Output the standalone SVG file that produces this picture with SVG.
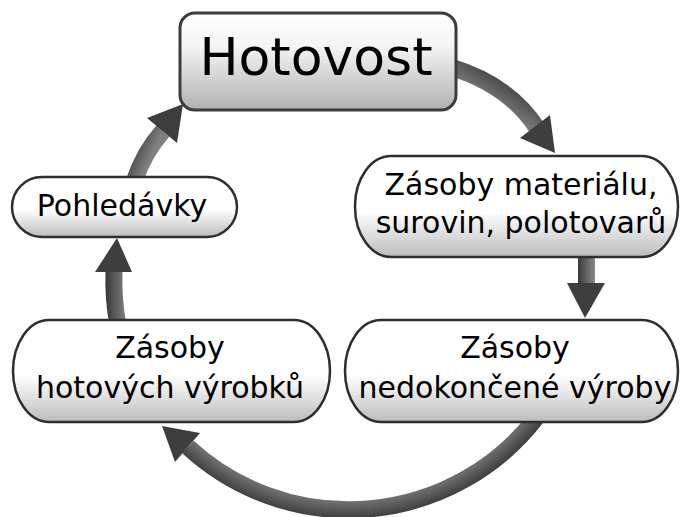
<svg xmlns="http://www.w3.org/2000/svg" width="681" height="517" viewBox="0 0 681 517">
  <defs>
    <linearGradient id="boxFill" x1="0" y1="0" x2="0" y2="1">
      <stop offset="0" stop-color="#ffffff"/>
      <stop offset="0.55" stop-color="#ffffff"/>
      <stop offset="1" stop-color="#bcbcbc"/>
    </linearGradient>
    <linearGradient id="titleFill" x1="0" y1="0" x2="0" y2="1">
      <stop offset="0" stop-color="#ffffff"/>
      <stop offset="0.35" stop-color="#f4f4f4"/>
      <stop offset="1" stop-color="#b0b0b0"/>
    </linearGradient>
    <!-- shaft shading: dark on the outer rim, lighter towards the middle of the cycle -->
    <radialGradient id="shaftBottom" gradientUnits="userSpaceOnUse" cx="348" cy="273" r="255">
      <stop offset="0.88" stop-color="#7c7c7c"/>
      <stop offset="0.97" stop-color="#3a3a3a"/>
    </radialGradient>
    <linearGradient id="shaftTopRight" gradientUnits="userSpaceOnUse" x1="500" y1="70" x2="480" y2="100">
      <stop offset="0" stop-color="#3a3a3a"/>
      <stop offset="1" stop-color="#808080"/>
    </linearGradient>
    <linearGradient id="shaftDown" gradientUnits="userSpaceOnUse" x1="578" y1="0" x2="595" y2="0">
      <stop offset="0" stop-color="#3a3a3a"/>
      <stop offset="1" stop-color="#8a8a8a"/>
    </linearGradient>
    <linearGradient id="shaftLeft" gradientUnits="userSpaceOnUse" x1="106" y1="0" x2="126" y2="0">
      <stop offset="0" stop-color="#3a3a3a"/>
      <stop offset="1" stop-color="#808080"/>
    </linearGradient>
    <linearGradient id="shaftUpLeft" gradientUnits="userSpaceOnUse" x1="128" y1="150" x2="150" y2="160">
      <stop offset="0" stop-color="#3a3a3a"/>
      <stop offset="1" stop-color="#808080"/>
    </linearGradient>
    <style>
      .box { stroke: #2e2e2e; stroke-width: 2.5; fill: url(#boxFill); }
      .title { stroke: #3c3c3c; stroke-width: 3; fill: url(#titleFill); }
      .label { font-family: "DejaVu Sans", Verdana, sans-serif; font-size: 30px; fill: #000; text-anchor: middle; }
      .big { font-size: 52px; }
      .shaft { fill: none; stroke-width: 17; }
      .head { fill: #3e3e3e; }
    </style>
  </defs>

  <g id="connectors">
    <!-- Hotovost -> materiál -->
    <path class="shaft" stroke="url(#shaftTopRight)" d="M 450 67 Q 508 84 537 128"/>
    <polygon class="head" points="520,138 550,115 555,153"/>
    <!-- materiál -> nedokončená výroba -->
    <rect x="578" y="254" width="17" height="31" fill="url(#shaftDown)"/>
    <polygon class="head" points="567,283 605,283 585,318"/>
    <!-- nedokončená výroba -> hotové výrobky -->
    <path class="shaft" stroke="url(#shaftBottom)" d="M 536 418 A 237 237 0 0 1 188 447"/>
    <polygon class="head" points="162,426 200,433 175,462"/>
    <!-- hotové výrobky -> pohledávky -->
    <path class="shaft" stroke="url(#shaftLeft)" d="M 118 325 Q 113 300 114 270"/>
    <polygon class="head" points="95,272 132,272 117,238"/>
    <!-- pohledávky -> Hotovost -->
    <path class="shaft" stroke="url(#shaftUpLeft)" d="M 134 182 Q 144 152 163 131"/>
    <polygon class="head" points="147,118 177,143 183,104"/>
  </g>

  <g id="hotovost">
    <rect class="title" x="180" y="13" width="276" height="97" rx="15" ry="15"/>
    <text class="label big" x="316" y="75">Hotovost</text>
  </g>

  <g id="zasoby-materialu">
    <rect class="box" x="355" y="156" width="323" height="101" rx="36" ry="50"/>
    <text class="label" x="521" y="195">Zásoby materiálu,</text>
    <text class="label" x="521" y="233">surovin, polotovarů</text>
  </g>

  <g id="pohledavky">
    <rect class="box" x="12" y="177" width="225" height="60" rx="30" ry="30"/>
    <text class="label" x="122" y="216">Pohledávky</text>
  </g>

  <g id="zasoby-hotovych">
    <rect class="box" x="13" y="320" width="317" height="102" rx="36" ry="51"/>
    <text class="label" x="170" y="358">Zásoby</text>
    <text class="label" x="170" y="398">hotových výrobků</text>
  </g>

  <g id="zasoby-nedokoncene">
    <rect class="box" x="345" y="320" width="333" height="102" rx="36" ry="51"/>
    <text class="label" x="515" y="358">Zásoby</text>
    <text class="label" x="515" y="398">nedokončené výroby</text>
  </g>
</svg>
